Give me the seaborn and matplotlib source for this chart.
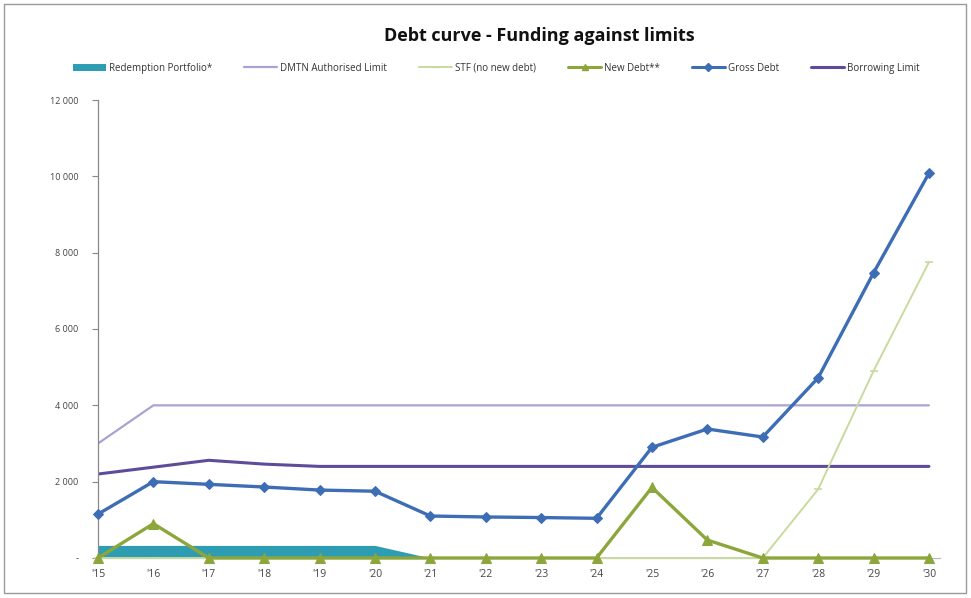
import matplotlib
matplotlib.use("Agg")
import matplotlib.pyplot as plt
from matplotlib.patches import Patch, Rectangle
from matplotlib.lines import Line2D
import seaborn as sns
import numpy as np

# Years on the x axis
years = ["'15", "'16", "'17", "'18", "'19", "'20", "'21", "'22",
         "'23", "'24", "'25", "'26", "'27", "'28", "'29", "'30"]

# Series values (millions)
redemption_portfolio = [330, 330, 330, 330, 330, 330, 0, 0, 0, 0, 0, 0, 0, 0, 0, 0]
dmtn_limit = [3000, 4000, 4000, 4000, 4000, 4000, 4000, 4000,
              4000, 4000, 4000, 4000, 4000, 4000, 4000, 4000]
stf_no_new_debt = [0, 0, 0, 0, 0, 0, 0, 0, 0, 0, 0, 0, 0, 1800, 4900, 7750]
new_debt = [0, 900, 0, 0, 0, 0, 0, 0, 0, 0, 1850, 470, 0, 0, 0, 0]
gross_debt = [1150, 2000, 1930, 1860, 1780, 1750, 1100, 1075,
              1060, 1040, 2900, 3380, 3170, 4720, 7470, 10080]
borrowing_limit = [2200, 2380, 2560, 2460, 2400, 2400, 2400, 2400,
                   2400, 2400, 2400, 2400, 2400, 2400, 2400, 2400]

y_ticks = [0, 2000, 4000, 6000, 8000, 10000, 12000]

c_redemption = "#2E9DB3"
c_dmtn = "#A9A3D3"
c_stf = "#C8DA9E"
c_new = "#8DA63B"
c_gross = "#3D6DB5"
c_borrow = "#5E4C9A"

sns.set_theme(style="white")
plt.rcParams["font.family"] = ["Open Sans", "DejaVu Sans"]

fig = plt.figure(figsize=(9.71, 5.98), dpi=100)
ax = fig.add_axes([98 / 971, 40 / 598, 842 / 971, 458 / 598])

x = np.arange(len(years))

ax.fill_between(x, 0, redemption_portfolio, color=c_redemption, lw=0, zorder=1)
sns.lineplot(x=x, y=dmtn_limit, ax=ax, color=c_dmtn, lw=1.6, zorder=2)
sns.lineplot(x=x, y=borrowing_limit, ax=ax, color=c_borrow, lw=2.2, zorder=2)
sns.lineplot(x=x, y=stf_no_new_debt, ax=ax, color=c_stf, lw=1.4, marker="_",
             markersize=6, markeredgewidth=1.2, markeredgecolor=c_stf, zorder=3,
             clip_on=False)
sns.lineplot(x=x, y=new_debt, ax=ax, color=c_new, lw=2.4, marker="^",
             markersize=7, markeredgecolor=c_new, markerfacecolor=c_new, zorder=4,
             clip_on=False)
sns.lineplot(x=x, y=gross_debt, ax=ax, color=c_gross, lw=2.4, marker="D",
             markersize=5, markeredgecolor=c_gross, markerfacecolor=c_gross, zorder=5,
             clip_on=False)

ax.set_xlim(0, 15.2)
ax.set_ylim(0, 12000)
ax.set_xticks(x)
ax.set_xticklabels(years, fontsize=7.5, color="#444444")
ax.set_yticks(y_ticks)
ax.set_yticklabels(["-" if v == 0 else f"{v:,}".replace(",", " ") for v in y_ticks],
                   fontsize=6.5, color="#444444")
ax.tick_params(axis="y", which="both", left=True, length=4, width=0.8,
               color="#888888", pad=10)
ax.tick_params(axis="x", length=0, pad=8)
for side in ["top", "right"]:
    ax.spines[side].set_visible(False)
ax.spines["left"].set_color("#888888")
ax.spines["left"].set_linewidth(0.9)
ax.spines["bottom"].set_color("#BBBBBB")
ax.spines["bottom"].set_linewidth(0.9)
ax.set_xlabel("")
ax.set_ylabel("")

fig.text(0.555, 0.94, "Debt curve - Funding against limits", ha="center",
         va="center", fontsize=13, fontweight="bold", color="#111111")

handles = [
    Patch(facecolor=c_redemption, edgecolor="none"),
    Line2D([], [], color=c_dmtn, lw=1.6),
    Line2D([], [], color=c_stf, lw=1.4, marker="_", markersize=6),
    Line2D([], [], color=c_new, lw=2.2, marker="^", markersize=5),
    Line2D([], [], color=c_gross, lw=2.2, marker="D", markersize=4),
    Line2D([], [], color=c_borrow, lw=2.2),
]
labels = ["Redemption Portfolio*", "DMTN Authorised Limit", "STF (no new debt)",
          "New Debt**", "Gross Debt", "Borrowing Limit"]
fig.legend(handles, labels, loc="center", bbox_to_anchor=(0.511, 0.886), ncol=6,
           frameon=False, fontsize=7, handlelength=3.4, handletextpad=0.3,
           columnspacing=3.3, labelcolor="#333333")

fig.add_artist(Rectangle((0.004, 0.008), 0.991, 0.985, transform=fig.transFigure,
                         fill=False, edgecolor="#9A9A9A", lw=1.0))

fig.savefig("out.png", dpi=100)
